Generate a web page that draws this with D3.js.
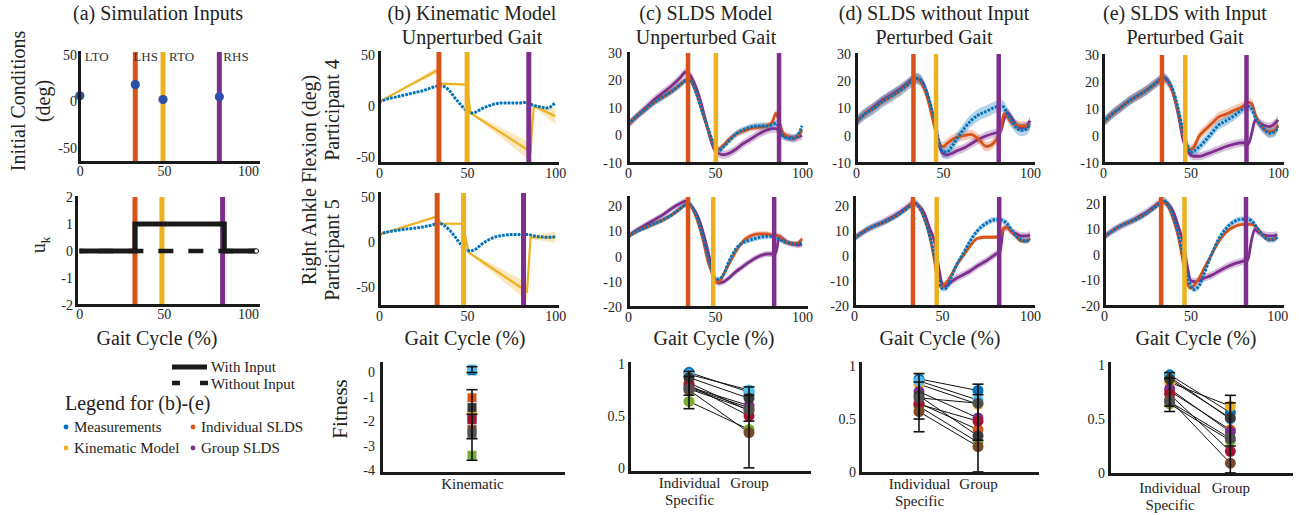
<!DOCTYPE html>
<html><head><meta charset="utf-8">
<script src="https://cdn.jsdelivr.net/npm/d3@7/dist/d3.min.js"></script>
<style>html,body{margin:0;padding:0;background:#fff;overflow:hidden}</style>
</head><body>
<svg id="chart" width="1299" height="515"></svg>
<script>
// ================= DATA =================
const gaitX = [0,5,10,15,20,25,30,33,35,37,40,43,46,48,50,52,55,58,62,66,70,75,80,83,85,87,89,92,95,98,100];
const xTicks = [0,50,100];

// (a) simulation inputs
const eventNames = ['LTO','LHS','RTO','RHS'];
const icX = [0,33,49.5,83];
const icY = [6,18,2,5];
const eventsA1 = [33,49.5,83];
const eventsA2 = [33,49,85];
const uX = [0,33,33,86,86,105];
const uWith = [0,0,1,1,0,0];
const uWithoutX = [0,105];
const uWithout = [0,0];
const inputLegend = ['With Input','Without Input'];
const seriesNames = ['Measurements','Individual SLDS','Kinematic Model','Group SLDS'];

// (b) kinematic model
const eventsB4 = [34,50,85];
const eventsB5 = [33,48,82];
const b4Meas = [4,7,9,11,13,15,18,19.5,20,19,15,8,2,-2,-5,-7,-6,-3,0,2,3,3,3,3.5,3,1,0,-1,-2,0,3.5];
const b5Meas = [8,11,12.5,14,15,16.5,18.5,20,20,18,13,6,-2,-7,-10,-10,-8,-3,2,5.5,7,8,8,8,8,7,6,5.5,5,5,6];
const kin4X = [0,33,34,35,50,51,52,86,87,88,100];
const kin4Y = [4,35,28,22,21,5,-7,-45,-18,0,-10];
const kin4Sd = [0,3,2,1,1,1,0.5,9,4,1,8];
const kin5X = [0,33,34,35,48,49,51,84,85,86,100];
const kin5Y = [8,28,24,20,20,5,-12,-55,-25,5,5];
const kin5Sd = [0,2,1.5,1,1,1,1,10,5,2,6];

// (c) SLDS unperturbed
const eventsC4 = [34.5,50.5,86.8];
const eventsC5 = [34.5,49,84];
const c4Meas = [4,7,9.5,12,14,16,18.5,20,20.5,19,14,8,2.5,-1,-4.5,-5.5,-4,-2,0.5,2,3,3.5,3.5,4,4.5,3,0,-1,-1,0.5,3.5];
const c4Ind  = [4,7,9.5,12,14,16,18.5,20,20.5,19,14,8,2,-1.5,-4.5,-5,-3.5,-1.5,0.5,1.5,2.5,3,3.5,5,8,5,1,-0.5,-1,0,2];
const c4Grp  = [4,7,10,13,15.5,18,21,23,22.5,20.5,16,9.5,2,-2.5,-5.5,-6.5,-7,-6.5,-5,-3,-1.5,0.5,2,2.5,2.5,1.5,0,-0.5,-1,-0.5,0];
const c5Meas = [8,10,11.5,13,14.5,16.5,19,20.5,21,19.5,15,8,0,-5,-9,-9,-7,-2,3,5.5,6.5,7.5,8,8,7.5,7,6,5.5,5,5,6];
const c5Ind  = [8,10,11.5,13,14.5,16.5,19,20.5,21,19,14,7,-2,-6,-10,-10,-7,-3,2,6,8,9,9,8.5,8.5,8,6.5,5.5,5,5.5,7];
const c5Grp  = [8,10.5,12.5,14.5,16.5,19,21,22,21,19.5,16,10,2,-4,-9,-10.5,-10,-8.5,-6,-4,-2,0,1,1,1.5,8,7,5.5,5,4.5,5];

// (d) SLDS without input, perturbed
const eventsD4 = [33,46,82];
const eventsD5 = [33.5,47,82.5];
const d4Meas = [5,8,10,12.5,14.5,16.5,19,20.5,21,20.5,17,11,3,-3,-6,-6,-4,-1,2.5,5.5,7.5,9,10.5,11,10.5,8,6,3,2,2.5,4.5];
const d4Ind  = [5,8,10,12.5,14.5,16.5,19,20.5,21,20,16,9,1,-3,-4,-3,-1.5,-0.5,0,0.5,-1,-4,-2,2,8,7,5,4,3.5,3.5,4];
const d4Grp  = [5,8,10.5,13,15,17,19.5,21,21,20.5,17,10,2,-4,-6.5,-7,-6.5,-5.5,-4.5,-3,-1.5,0,1,1.5,6,8.5,7,4,3,3.5,5.5];
const d5Meas = [7,9.5,11.5,13,14.5,16.5,19,20.5,21,19.5,15,8,-1,-8,-13,-13,-9,-4,1,6,10,13,14.5,14.5,14,13,11,8,6.5,6,7];
const d5Ind  = [7,9.5,11.5,13,14.5,16.5,19,21,21,19.5,15,8,-3,-12,-12,-11,-8,-4,0,4,7,7.5,7.5,8,11,11.5,10,8,6,6,7];
const d5Grp  = [7,9.5,11.5,13,15,17,19.5,21,21,20,17,11,5,-4,-11,-12,-10.5,-9,-7.5,-6,-4,-2,0.5,2,11,11.5,10,9,8,8,8.5];

// (e) SLDS with input, perturbed
const eventsE4 = [33.7,47,82];
const eventsE5 = [33,46.5,82];
const e4Meas = [5,8,10.5,13,15,17,19.5,21,21.5,20.5,17,10,1,-3,-6,-5.5,-4,-2,1,4,5.5,7.5,10,11,10,7,5,2.5,1,1.5,3.5];
const e4Ind  = [5,8,10.5,13,15,17,19.5,20.5,21,20,16,9,0,-4,-5,-4,0,2,4.5,7,8,9.5,11,12.5,12,8,5,2.5,1.5,2,4];
const e4Grp  = [5,8,10.5,13,15,17,19.5,21,21.5,20.5,16,8,-2,-5,-7,-7.5,-7.5,-7,-6,-5,-4,-3,-2.5,-3,1,6,5,4,3.5,4.5,6];
const e5Meas = [7,9.5,11.5,13,14.5,16.5,19,20.5,21,19.5,15,8,-1,-7,-12,-13.5,-12,-7,0,6,10,13,14,14,13.5,12,10,7.5,6,6,7];
const e5Ind  = [7,9.5,11.5,13,14.5,16.5,19,21,20.5,19,14,7,-4,-11,-13,-12,-9,-5,0,5,8.5,11,12,12,12,11.5,10,7.5,6,6,7];
const e5Grp  = [7,9.5,11.5,13,15,17,19.5,21,21,20,17,11,4,-4,-10,-10.5,-10,-9,-8,-6.5,-5,-3.5,-2.5,-2,5,10,9,8,7.5,7.5,8];

// band half-widths [meas, individual, group]
const bandC4 = [1.2,1.2,1.5], bandC5 = [1.0,1.0,1.2];
const bandD4 = [2.2,1.8,1.6], bandD5 = [1.2,0.8,1.5];
const bandE4 = [1.8,1.8,1.5], bandE5 = [1.2,0.8,1.5];

// Fitness
const fitKinCat = ['Kinematic'];
const fitCats = ['Individual Specific','Group'];
const fitB    = [0.05,-1.05,-1.62,-1.9,-3.4,0.12,-1.95,-1.45,-2.35,-2.5];
const errB    = [[-0.02,0.22],[-2.72,-0.72],[-3.6,-1.72]];
const fitCInd = [0.92,0.82,0.77,0.78,0.64,0.90,0.80,0.87,0.75,0.76];
const fitCGrp = [0.73,0.55,0.58,0.60,0.37,0.75,0.50,0.67,0.34,0.56];
const errCInd = [[0.57,0.88],[0.70,0.93]];
const errCGrp = [[0,0.70],[0.45,0.78]];
const fitDInd = [0.88,0.65,0.83,0.76,0.62,0.86,0.64,0.72,0.57,0.70];
const fitDGrp = [0.77,0.40,0.64,0.51,0.28,0.68,0.48,0.34,0.24,0.65];
const errDInd = [[0.38,0.85],[0.50,0.93]];
const errDGrp = [[0,0.73],[0.30,0.83]];
const fitEInd = [0.91,0.76,0.84,0.78,0.64,0.89,0.73,0.87,0.68,0.66];
const fitEGrp = [0.56,0.40,0.62,0.38,0.30,0.50,0.20,0.51,0.09,0.32];
const errEInd = [[0.57,0.88],[0.62,0.93]];
const errEGrp = [[0,0.65],[0.25,0.72]];

// ================= STYLE =================
const FONT = '"Liberation Serif","Times New Roman",serif';
const C = {blue:'#0072BD', orange:'#D95319', yellow:'#EDB120', purple:'#7E2F8E'};
const evColors = [C.orange, C.yellow, C.purple];
const participantColors = ['#0072BD','#D95319','#EDB120','#7E2F8E','#77AC30','#4DBEEE','#A2142F','#3A3A3A','#7A4A2A','#525252'];
const seriesColors = [C.blue, C.orange, C.yellow, C.purple];
const svg = d3.select('#chart').attr('font-family', FONT);
const fmt = d => String(d);

function axes(x, y, xt, yt, o = {}) {
  const yb = y.range()[0], xl = x.range()[0];
  const gx = svg.append('g').attr('transform', `translate(0,${yb})`)
    .call(d3.axisBottom(x).tickValues(xt).tickSize(0).tickPadding(o.xpad ?? 5).tickFormat(o.xfmt || fmt));
  const gy = svg.append('g').attr('transform', `translate(${xl},0)`)
    .call(d3.axisLeft(y).tickValues(yt).tickSize(0).tickPadding(o.ypad ?? 4).tickFormat(o.yfmt || fmt));
  for (const g of [gx, gy]) {
    g.attr('font-family', FONT).attr('font-size', 14);
    g.select('.domain').attr('stroke', '#1a1a1a').attr('stroke-width', 3).attr('stroke-linecap', 'square');
    g.selectAll('.tick text').attr('fill', '#222');
  }
  gx.selectAll('.tick text').attr('font-size', o.xfs || 14);
  return {gx, gy};
}

function bars(x, y, evs, w = 4.5) {
  svg.append('g').selectAll('rect').data(evs).join('rect')
    .attr('x', d => x(d) - w / 2).attr('width', w)
    .attr('y', y.range()[1]).attr('height', y.range()[0] - y.range()[1])
    .attr('fill', (d, i) => evColors[i]);
}

function drawTraces(x, y, list) {
  const g = svg.append('g');
  for (const s of list) {
    const cv = s.linear ? d3.curveLinear : d3.curveMonotoneX;
    const sd = Array.isArray(s.band) ? s.band : s.xs.map(() => s.band);
    const area = d3.area().curve(cv)
      .x((d, i) => x(s.xs[i])).y0((d, i) => y(s.ys[i] - sd[i])).y1((d, i) => y(s.ys[i] + sd[i]));
    g.append('path').attr('d', area(s.ys)).attr('fill', s.color).attr('opacity', 0.3);
  }
  for (const s of list) {
    const cv = s.linear ? d3.curveLinear : d3.curveMonotoneX;
    const line = d3.line().curve(cv).x((d, i) => x(s.xs[i])).y((d, i) => y(s.ys[i]));
    g.append('path').attr('d', line(s.ys)).attr('fill', 'none').attr('stroke', s.color)
      .attr('stroke-width', s.width || 2.8).attr('stroke-dasharray', s.dash || null);
  }
}

function sldsPanel(xr, xd, yr, yd, yt, events, meas, ind, grp, band, ypad) {
  const x = d3.scaleLinear(xd, xr), y = d3.scaleLinear(yd, yr);
  drawTraces(x, y, [
    {xs: gaitX, ys: grp, band: band[2], color: C.purple},
    {xs: gaitX, ys: ind, band: band[1], color: C.orange},
    {xs: gaitX, ys: meas, band: band[0], color: C.blue, dash: '2.6,1.3', width: 3}
  ]);
  bars(x, y, events);
  axes(x, y, xTicks, yt, {ypad});
}

function text(x, y, str, o = {}) {
  const t = svg.append('text').attr('x', x).attr('y', y).attr('font-size', o.fs || 20)
    .attr('fill', o.fill || '#222').attr('text-anchor', o.anchor || 'middle').text(str);
  if (o.rot) t.attr('transform', `rotate(-90,${x},${y})`);
  return t;
}

function splitLabels(g) {
  g.selectAll('.tick text').each(function(d) {
    if (d.includes(' ')) {
      const t = d3.select(this).attr('dy', null).text(null);
      d.split(' ').forEach((p, i) => t.append('tspan').attr('x', 0).attr('dy', i ? '1.15em' : '0.71em').text(p));
    }
  });
}

function errBars(g, cx, y, errs) {
  for (const [lo, hi] of errs) {
    g.append('line').attr('x1', cx).attr('x2', cx).attr('y1', y(lo)).attr('y2', y(hi))
      .attr('stroke', '#111').attr('stroke-width', 1.6);
    for (const v of [lo, hi]) {
      g.append('line').attr('x1', cx - 5.5).attr('x2', cx + 5.5).attr('y1', y(v)).attr('y2', y(v))
        .attr('stroke', '#111').attr('stroke-width', 1.6);
    }
  }
}

function fitPanel(xr, yr, yd, ind, grp, errI, errG, ypad, xpad) {
  const x = d3.scalePoint(fitCats, xr).padding(1);
  const y = d3.scaleLinear(yd, yr);
  const g = svg.append('g');
  g.selectAll('line.pair').data(ind).join('line').attr('class', 'pair')
    .attr('x1', x(fitCats[0])).attr('x2', x(fitCats[1]))
    .attr('y1', d => y(d)).attr('y2', (d, i) => y(grp[i]))
    .attr('stroke', '#111').attr('stroke-width', 1);
  [[fitCats[0], ind], [fitCats[1], grp]].forEach(([cat, vals]) => {
    g.append('g').selectAll('circle').data(vals).join('circle')
      .attr('cx', x(cat)).attr('cy', d => y(d)).attr('r', 5.5)
      .attr('fill', (d, i) => participantColors[i]);
  });
  [[fitCats[0], errI], [fitCats[1], errG]].forEach(([cat, errs]) => errBars(g, x(cat), y, errs));
  const {gx} = axes(x, y, fitCats, [0, 0.5, 1], {ypad, xpad, xfs: 15});
  splitLabels(gx);
}

// ================= (a) =================
{
  const x = d3.scaleLinear([-0.5, 106], [79, 258]);
  const y = d3.scaleLinear([-65, 53], [162, 52]);
  bars(x, y, eventsA1, 5);
  svg.append('g').selectAll('circle').data(icY).join('circle')
    .attr('cx', (d, i) => x(icX[i])).attr('cy', d => y(d)).attr('r', 4.6).attr('fill', '#2E4FA8');
  const labelDx = [5, -2, 6, 4];
  svg.append('g').selectAll('text').data(eventNames).join('text')
    .attr('x', (d, i) => x(icX[i]) + labelDx[i]).attr('y', y.range()[1] + 9)
    .attr('font-size', 13).attr('fill', '#333').text(d => d);
  axes(x, y, xTicks, [-50, 0, 50], {ypad: 2, xpad: 4});
}
{
  const x = d3.scaleLinear([-2, 106], [76, 258]);
  const y = d3.scaleLinear([-2, 2], [305, 197]);
  bars(x, y, eventsA2, 5);
  const line = d3.line().x((d, i) => x(uWithoutX[i])).y(d => y(d));
  svg.append('path').attr('d', line(uWithout)).attr('fill', 'none').attr('stroke', '#1a1a1a')
    .attr('stroke-width', 4.5).attr('stroke-dasharray', '15,15').attr('stroke-dashoffset', 11);
  const line2 = d3.line().x((d, i) => x(uX[i])).y(d => y(d));
  svg.append('path').attr('d', line2(uWith)).attr('fill', 'none').attr('stroke', '#1a1a1a')
    .attr('stroke-width', 5).attr('stroke-linejoin', 'miter');
  svg.append('circle').attr('cx', x(uWithoutX[1])).attr('cy', y(0)).attr('r', 2.3)
    .attr('fill', '#fff').attr('stroke', '#1a1a1a').attr('stroke-width', 1);
  axes(x, y, xTicks, [-2, -1, 0, 1, 2], {ypad: 3, xpad: 4});
}
// legend (a)
svg.append('line').attr('x1', 172).attr('x2', 207).attr('y1', 367).attr('y2', 367)
  .attr('stroke', '#1a1a1a').attr('stroke-width', 5);
svg.append('line').attr('x1', 172).attr('x2', 208).attr('y1', 383).attr('y2', 383)
  .attr('stroke', '#1a1a1a').attr('stroke-width', 4.5).attr('stroke-dasharray', '8,20');
inputLegend.forEach((s, i) => text(211, 372 + i * 17, s, {fs: 15, anchor: 'start'}));
text(65, 410, 'Legend for (b)-(e)', {fs: 20, anchor: 'start'});
seriesNames.forEach((s, i) => {
  const cx = [66, 193][i % 2], cy = [427, 448][Math.floor(i / 2)];
  svg.append('circle').attr('cx', cx).attr('cy', cy).attr('r', 2.4).attr('fill', seriesColors[i]);
  text(cx + 8, cy + 5, s, {fs: 15, anchor: 'start'});
});

// ================= (b) =================
{
  const x = d3.scaleLinear([0, 101], [379, 557]);
  const y = d3.scaleLinear([-56, 53], [163, 52]);
  drawTraces(x, y, [
    {xs: kin4X, ys: kin4Y, band: kin4Sd, color: C.yellow, linear: true, width: 2.2},
    {xs: gaitX, ys: b4Meas, band: 0.6, color: C.blue, dash: '2.6,1.3', width: 3}
  ]);
  bars(x, y, eventsB4, 5);
  axes(x, y, xTicks, [-50, 0, 50], {ypad: 4});
}
{
  const x = d3.scaleLinear([0, 101], [379, 557]);
  const y = d3.scaleLinear([-71, 54], [306, 193]);
  drawTraces(x, y, [
    {xs: kin5X, ys: kin5Y, band: kin5Sd, color: C.yellow, linear: true, width: 2.2},
    {xs: gaitX, ys: b5Meas, band: 0.6, color: C.blue, dash: '2.6,1.3', width: 3}
  ]);
  bars(x, y, eventsB5, 5);
  axes(x, y, xTicks, [-50, 0, 50], {ypad: 4});
}
// fitness (b)
{
  const x = d3.scalePoint(fitKinCat, [381, 563]).padding(0.5);
  const y = d3.scaleLinear([-4.12, 0.37], [473, 363]);
  const g = svg.append('g');
  g.selectAll('rect').data(fitB).join('rect')
    .attr('x', x(fitKinCat[0]) - 4.5).attr('width', 9).attr('y', d => y(d) - 4.5).attr('height', 9)
    .attr('fill', (d, i) => participantColors[i]);
  errBars(g, x(fitKinCat[0]), y, errB);
  axes(x, y, fitKinCat, [-4, -3, -2, -1, 0], {ypad: 6, xpad: 5, xfs: 15});
}

// ================= (c)(d)(e) =================
sldsPanel([628, 806], [0, 102.3], [163, 53], [-10, 30], [-10, 0, 10, 20, 30], eventsC4, c4Meas, c4Ind, c4Grp, bandC4, 6);
sldsPanel([628, 806], [0, 102.3], [307, 197], [-20, 23.6], [-20, -10, 0, 10, 20], eventsC5, c5Meas, c5Ind, c5Grp, bandC5, 6);
sldsPanel([856, 1033], [0, 101.7], [163, 54], [-10, 30], [-10, 0, 10, 20, 30], eventsD4, d4Meas, d4Ind, d4Grp, bandD4, 5);
sldsPanel([854, 1033], [0, 101.7], [306, 197], [-20, 23.6], [-20, -10, 0, 10, 20], eventsD5, d5Meas, d5Ind, d5Grp, bandD5, 5);
sldsPanel([1103, 1282], [0, 102.3], [163, 55], [-10, 30], [-10, 0, 10, 20, 30], eventsE4, e4Meas, e4Ind, e4Grp, bandE4, 4);
sldsPanel([1104, 1282], [0, 102.8], [306, 197], [-20, 22.7], [-20, -10, 0, 10, 20], eventsE5, e5Meas, e5Ind, e5Grp, bandE5, 4);

fitPanel([629, 809], [472, 363], [-0.04, 1.01], fitCInd, fitCGrp, errCInd, errCGrp, 4, 5);
fitPanel([860, 1037], [473, 363], [-0.01, 1.03], fitDInd, fitDGrp, errDInd, errDGrp, 4, 5);
fitPanel([1109, 1291], [474, 363], [-0.01, 1.02], fitEInd, fitEGrp, errEInd, errEGrp, 4, 8);

// ================= TEXT =================
const titles = [
  ['(a) Simulation Inputs'],
  ['(b) Kinematic Model', 'Unperturbed Gait'],
  ['(c) SLDS Model', 'Unperturbed Gait'],
  ['(d) SLDS without Input', 'Perturbed Gait'],
  ['(e) SLDS with Input', 'Perturbed Gait']
];
const titleX = [158, 472, 706, 934, 1185];
titles.forEach((lines, i) => lines.forEach((s, j) => text(titleX[i], 20 + j * 24, s)));
[157, 465, 714, 940, 1196].forEach(cx => text(cx, 345, 'Gait Cycle (%)'));
text(25, 101, 'Initial Conditions', {rot: true});
text(50, 101, '(deg)', {rot: true});
{
  const t = text(45, 245, 'u', {rot: true});
  t.append('tspan').attr('font-size', 13).attr('dy', 5).text('k');
}
text(316, 180, 'Right Ankle Flexion (deg)', {rot: true});
text(339, 110, 'Participant 4', {rot: true});
text(339, 250, 'Participant 5', {rot: true});
text(347, 409, 'Fitness', {rot: true, fs: 21});
</script></body></html>
